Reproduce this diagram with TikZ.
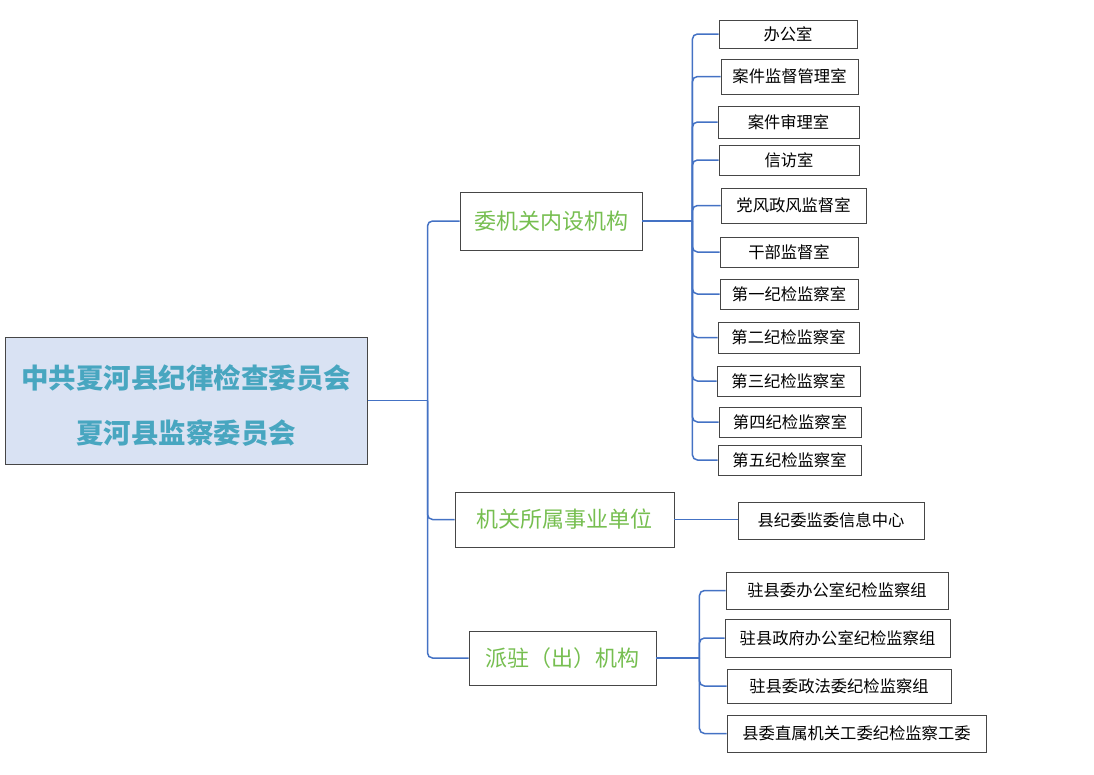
\documentclass[tikz,border=0pt]{standalone}
\usepackage{fontspec}
\setmainfont{Noto Sans CJK SC}
\usetikzlibrary{calc,positioning}

\definecolor{linkblue}{RGB}{68,114,196}
\definecolor{rootfill}{RGB}{217,226,243}
\definecolor{roottext}{RGB}{72,166,192}
\definecolor{midgreen}{RGB}{118,190,80}
\definecolor{boxgray}{RGB}{70,70,70}

\begin{document}
\begin{tikzpicture}[x=1pt,y=-1pt,
  rootbox/.style={draw=boxgray,line width=1pt,fill=rootfill,inner sep=0pt},
  roottitle/.style={inner sep=0pt,align=center,text=roottext,
    font=\bfseries\fontsize{27.5}{55}\selectfont},
  midbox/.style={draw=boxgray,line width=0.9pt,inner sep=0pt,text=midgreen,
    font=\fontsize{22}{26}\selectfont},
  leafbox/.style={draw=boxgray,line width=0.9pt,inner sep=0pt,
    font=\fontsize{16.3}{20}\selectfont},
  link/.style={draw=linkblue,line width=1.5pt,rounded corners=5pt}]

\useasboundingbox (0,0) rectangle (1094,774);

% root
\node[rootbox,minimum width=362pt,minimum height=127pt] (root) at (186,400.5) {};
\node[roottitle] (roottxt) at ([yshift=-5pt]root.center)
  {中共夏河县纪律检查委员会\\夏河县监察委员会};

% second level
\node[midbox,minimum width=182pt,minimum height=58pt] (jgns) at (551,221) {委机关内设机构};
\node[midbox,minimum width=219pt,minimum height=55pt] (sydw) at (564.5,519.5) {机关所属事业单位};
\node[midbox,minimum width=187pt,minimum height=54pt] (pzjg) at (562.5,658) {派驻（出）机构};

% offices
\node[leafbox,minimum width=138pt,minimum height=28pt] (bgs) at (788,34) {办公室};
\node[leafbox,minimum width=137pt,minimum height=35pt] (jdgl) at (789.5,76.5) {案件监督管理室};
\node[leafbox,minimum width=141pt,minimum height=32pt] (ajsl) at (788.5,122) {案件审理室};
\node[leafbox,minimum width=140pt,minimum height=30pt] (xfs) at (789,160) {信访室};
\node[leafbox,minimum width=145pt,minimum height=35pt] (dfzf) at (793.5,205.5) {党风政风监督室};
\node[leafbox,minimum width=138pt,minimum height=30pt] (gbjd) at (789,252) {干部监督室};
\node[leafbox,minimum width=138pt,minimum height=30pt] (jc1) at (789,294) {第一纪检监察室};
\node[leafbox,minimum width=141pt,minimum height=31pt] (jc2) at (788.5,337.5) {第二纪检监察室};
\node[leafbox,minimum width=143pt,minimum height=30pt] (jc3) at (788.5,381) {第三纪检监察室};
\node[leafbox,minimum width=142pt,minimum height=30pt] (jc4) at (790,422) {第四纪检监察室};
\node[leafbox,minimum width=143pt,minimum height=30pt] (jc5) at (789.5,460) {第五纪检监察室};

% unit
\node[leafbox,minimum width=186pt,minimum height=37pt] (xxzx) at (831,520.5) {县纪委监委信息中心};

% stationed groups
\node[leafbox,minimum width=222pt,minimum height=37pt] (zxw) at (837,590.5) {驻县委办公室纪检监察组};
\node[leafbox,minimum width=225pt,minimum height=38pt] (zzf) at (837.5,638) {驻县政府办公室纪检监察组};
\node[leafbox,minimum width=224pt,minimum height=34pt] (zzfw) at (839,686) {驻县委政法委纪检监察组};
\node[leafbox,minimum width=259pt,minimum height=37pt] (zsgw) at (856.5,733.5) {县委直属机关工委纪检监察工委};

% connectors
\draw[link] (root.east) -- ++(60,0) coordinate (t1);
\draw[link] (t1) |- (jgns.west);
\draw[link] (t1) |- (sydw.west);
\draw[link] (t1) |- (pzjg.west);

\draw[link] (jgns.east) -- ++(50,0) coordinate (t2);
\draw[link] (t2) |- (bgs.west);
\draw[link] (t2) |- (jdgl.west);
\draw[link] (t2) |- (ajsl.west);
\draw[link] (t2) |- (xfs.west);
\draw[link] (t2) |- (dfzf.west);
\draw[link] (t2) |- (gbjd.west);
\draw[link] (t2) |- (jc1.west);
\draw[link] (t2) |- (jc2.west);
\draw[link] (t2) |- (jc3.west);
\draw[link] (t2) |- (jc4.west);
\draw[link] (t2) |- (jc5.west);

\draw[link] (sydw.east) -- (sydw.east -| xxzx.west);

\draw[link] (pzjg.east) -- ++(43,0) coordinate (t4);
\draw[link] (t4) |- (zxw.west);
\draw[link] (t4) |- (zzf.west);
\draw[link] (t4) |- (zzfw.west);
\draw[link] (t4) |- (zsgw.west);

\end{tikzpicture}
\end{document}
